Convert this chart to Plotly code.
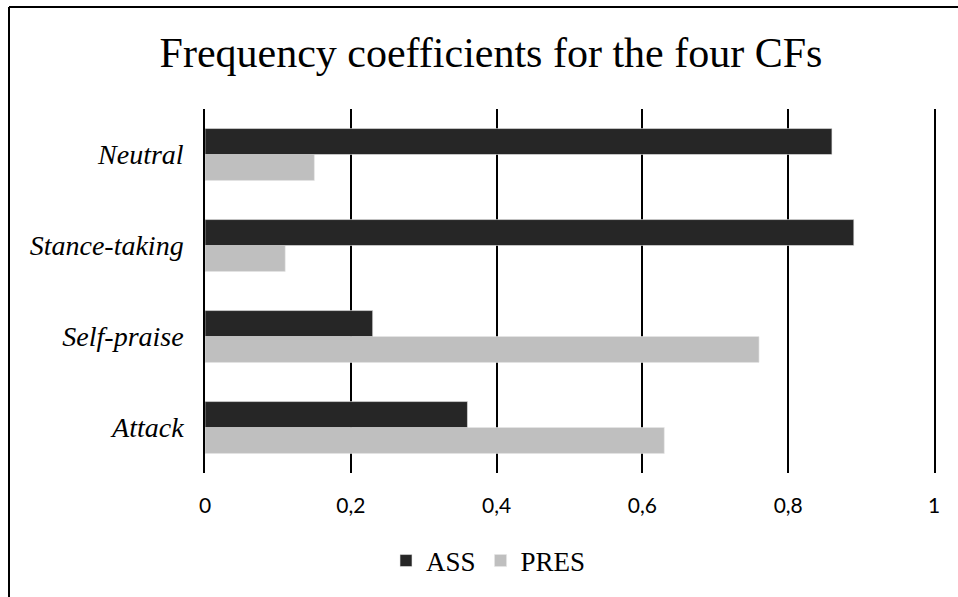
import plotly.graph_objects as go

categories = ["Attack", "Self-praise", "Stance-taking", "Neutral"]
ass_values = [0.36, 0.23, 0.89, 0.86]
pres_values = [0.63, 0.76, 0.11, 0.15]
tick_values = [0, 0.2, 0.4, 0.6, 0.8, 1]
tick_labels = ["0", "0,2", "0,4", "0,6", "0,8", "1"]

W, H = 958, 597
L, R, T, B = 205, 24, 109, 124
pw, ph = W - L - R, H - T - B

def px_x(p):
    return (p - L) / pw

def px_y(p):
    return (H - B - p) / ph

fig = go.Figure()
fig.add_trace(go.Bar(y=categories, x=pres_values, name="PRES", orientation="h",
                     marker=dict(color="#bfbfbf", line=dict(color="#e6e6e6", width=0.6))))
fig.add_trace(go.Bar(y=categories, x=ass_values, name="ASS", orientation="h",
                     marker=dict(color="#262626", line=dict(color="#e6e6e6", width=0.6))))

fig.update_layout(
    width=W, height=H,
    margin=dict(l=L, r=R, t=T, b=B, autoexpand=False),
    paper_bgcolor="white", plot_bgcolor="white",
    barmode="group", bargap=0.43, bargroupgap=0,
    separators=",.",
    title=dict(text="Frequency coefficients for the four CFs",
               x=491 / W, y=1 - 52 / H, xref="container", yref="container",
               xanchor="center", yanchor="middle",
               font=dict(family="Liberation Serif", size=42, color="black")),
    legend=dict(orientation="h", traceorder="reversed",
                x=px_x(386), y=px_y(561), xanchor="left", yanchor="middle",
                font=dict(family="Liberation Serif", size=27, color="black"),
                itemwidth=30, tracegroupgap=0),
    showlegend=True,
)
fig.update_xaxes(range=[0, 1], tickvals=tick_values, ticktext=tick_labels,
                 showgrid=True, gridcolor="black", gridwidth=1.5,
                 zeroline=False, showline=False, ticks="",
                 ticklabelstandoff=18,
                 tickfont=dict(family="Lato", size=21, color="black"),
                 fixedrange=True)
fig.update_yaxes(showgrid=False, zeroline=False, showline=True, mirror=True,
                 linecolor="black", linewidth=1.5, ticks="",
                 ticklabelstandoff=14,
                 tickfont=dict(family="Liberation Serif", size=28, color="black",
                               style="italic"),
                 fixedrange=True)

# outer chart border (top and left edges visible)
border = dict(color="black", width=2)
fig.add_shape(type="line", xref="paper", yref="paper",
              x0=px_x(9), x1=px_x(W + 5), y0=px_y(7), y1=px_y(7), line=border)
fig.add_shape(type="line", xref="paper", yref="paper",
              x0=px_x(9), x1=px_x(9), y0=px_y(7), y1=px_y(H + 5), line=border)

fig.write_html("out.html", config={"displayModeBar": False},
               post_script="document.body.style.margin='0';")
